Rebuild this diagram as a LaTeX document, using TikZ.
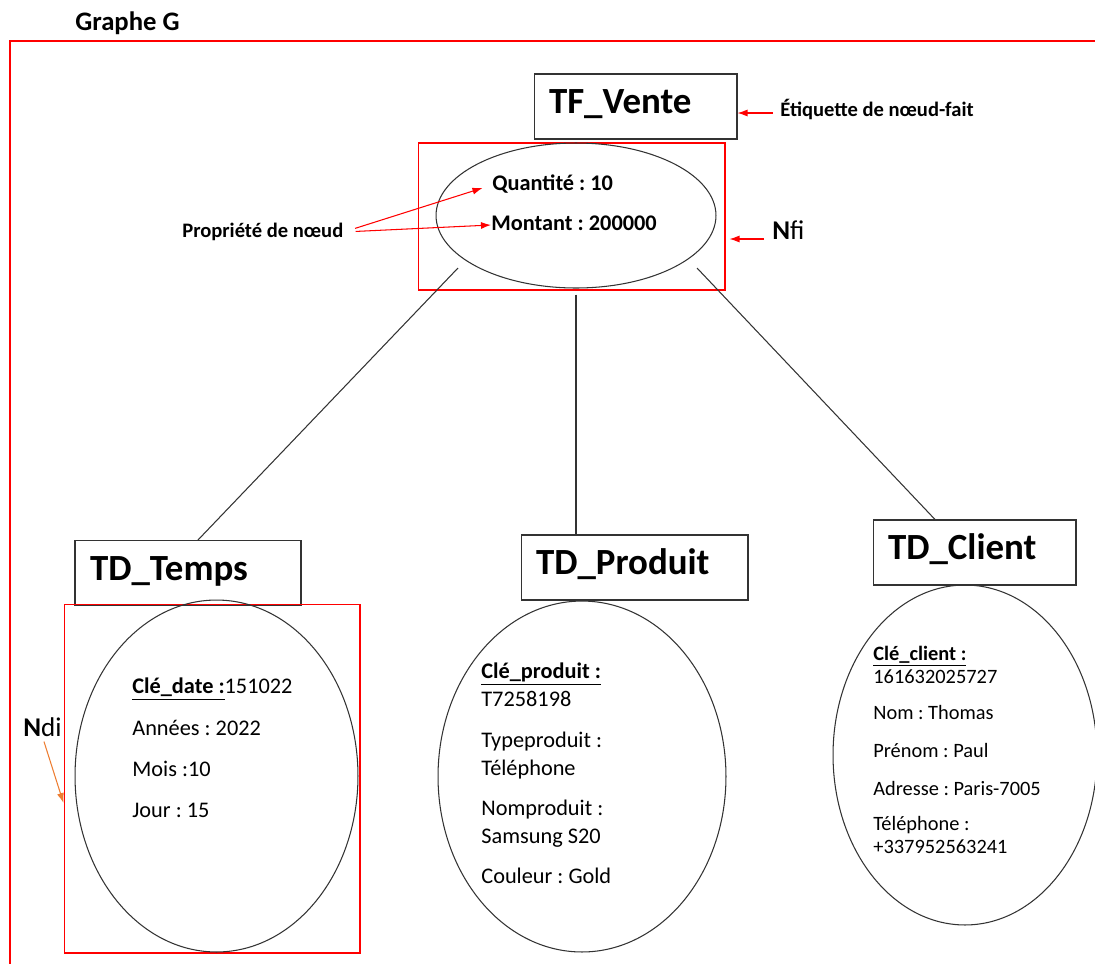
\documentclass[tikz,border=0pt]{standalone}
\usepackage{fontspec}
\setmainfont{Carlito}
\usepackage{xcolor}
\usetikzlibrary{shapes.geometric, arrows.meta, positioning, calc}
\frenchspacing
\definecolor{framered}{RGB}{255,0,0}
\definecolor{ndiorange}{RGB}{237,125,49}
\newcommand{\tbfont}{\fontsize{21}{25}\selectfont\bfseries}
\newcommand{\attrfont}{\fontsize{12.7}{15}\selectfont}
\newcommand{\smallattrfont}{\fontsize{11.6}{14}\selectfont}
\newcommand{\notefont}{\fontsize{11.7}{14}\selectfont\bfseries}
\newcommand{\tagfont}{\fontsize{15.4}{18}\selectfont}
\tikzset{
	tablebox/.style={rectangle, draw=black!80, line width=0.6pt, font=\tbfont, align=left, inner xsep=0.3cm, text height=0.85em, text depth=0em, minimum height=1.3cm},
	valnode/.style={ellipse, draw=black!80, line width=0.6pt, inner sep=0pt},
	redbox/.style={rectangle, draw=framered, line width=0.6pt, inner sep=0pt},
	attr/.style={anchor=west, inner sep=0pt, text height=0.72em, text depth=0.12em, font=\attrfont},
	note/.style={anchor=west, inner sep=0pt, font=\notefont},
	redarrow/.style={draw=framered, line width=0.6pt, -{Latex[length=2mm, width=1.4mm]}},
	link/.style={draw=black!80, line width=0.6pt}
}

\begin{document}
\begin{tikzpicture}[x=0.02cm, y=-0.02cm]
	\useasboundingbox (0,0) rectangle (1095,964);
	
	% Frame of the graph
	\node[anchor=west, inner sep=0pt, font=\fontsize{15.2}{18}\selectfont\bfseries] (title) at (75,23) {Graphe G};
	\draw[framered, line width=0.6pt] (1095,41) -- (10,41) -- (10,964);
	
	% Fact node
	\node[tablebox, text width=3.46cm] (tfvente) at (635.5,106.5) {TF\_Vente};
	\node[redbox, minimum width=6.14cm, minimum height=2.94cm] (nfibox) at (571.5,216.5) {};
	\node[valnode, minimum width=5.6cm, minimum height=2.9cm] (fact) at (576,215.5) {};
	\node[attr, font=\attrfont\bfseries] (qte) at (492,185) {Quantité : 10};
	\node[attr, font=\attrfont\bfseries] (montant) at (491,225) {Montant : 200000};
	
	% Annotations
	\node[note] (etiq) at (780,109) {Étiquette de nœud-fait};
	\node[note] (prop) at (182,232) {Propriété de nœud};
	\node[anchor=west, inner sep=0pt, font=\tagfont] (nfilab) at (772,230) {\textbf{N}fi};
	\node[anchor=west, inner sep=0pt, font=\tagfont] (ndilab) at (23,727) {\textbf{N}di};
	\path[redarrow, shorten <=0.14cm] ([yshift=-0.08cm]etiq.west) -- ([yshift=-0.08cm]etiq.west -| tfvente.east);
	\path[redarrow, shorten <=0.16cm, shorten >=0.08cm] ([yshift=-0.18cm]nfilab.west) -- ([yshift=-0.18cm]nfilab.west -| nfibox.east);
	\path[redarrow, shorten <=0.24cm, shorten >=0.2cm] (prop.east) -- (qte.west);
	\path[redarrow, shorten <=0.24cm] (prop.east) -- (montant.west);
	
	% Dimension nodes
	\node[tablebox, text width=3.92cm] (tdtemps) at (188,573) {TD\_Temps};
	\node[tablebox, text width=3.94cm] (tdproduit) at (634.5,567.5) {TD\_Produit};
	\node[tablebox, text width=3.46cm] (tdclient) at (974.5,552.5) {TD\_Client};
	
	\node[redbox, minimum width=5.92cm, minimum height=6.98cm] (ndibox) at (212,778.5) {};
	\node[valnode, minimum width=5.66cm, minimum height=7.04cm] (temps) at (216.5,776) {};
	\node[valnode, minimum width=5.76cm, minimum height=7.02cm] (produit) at (582,776.5) {};
	\node[valnode, minimum width=5.28cm, minimum height=6.8cm] (client) at (965,755) {};
	\path[draw=ndiorange, line width=0.6pt, -{Latex[length=2mm, width=1.4mm]}, shorten <=0.1cm] (ndilab.south) -- ([yshift=-0.49cm]ndibox.west);
	
	% Properties of the dimensions
	\node[attr] (cledate) at (132,688) {\underline{\textbf{Clé\_date :}}151022};
	\foreach \y/\t [count=\i] in {730/{Années : 2022}, 771/{Mois :10}, 812/{Jour : 15}}
		\node[attr] (temps\i) at (132,\y) {\t};
	
	\node[attr] (cleproduit) at (481,673) {\underline{\textbf{Clé\_produit :}}};
	\foreach \y/\t [count=\i] in {701/T7258198, 742/{Typeproduit :}, 770/Téléphone, 810/{Nomproduit :}, 838/{Samsung S20}, 878/{Couleur : Gold}}
		\node[attr] (produit\i) at (481,\y) {\t};
	
	\node[attr, font=\smallattrfont] (cleclient) at (873,655) {\underline{\textbf{Clé\_client :}}};
	\foreach \y/\t [count=\i] in {678/161632025727, 714/{Nom : Thomas}, 752/{Prénom : Paul}, 790/{Adresse : Paris-7005}, 825/{Téléphone :}, 848/+337952563241}
		\node[attr, font=\smallattrfont] (client\i) at (873,\y) {\t};
	
	% Links between the fact and the dimensions
	\coordinate (f1) at (458,268);
	\coordinate (f3) at (697,268);
	\path[link] (f1) -- ([xshift=0.2cm]tdtemps.north);
	\path[link, shorten <=0.12cm] (fact.south) -- (fact.south |- tdproduit.north);
	\path[link] (f3) -- ([xshift=-0.79cm]tdclient.north);
\end{tikzpicture}
\end{document}
